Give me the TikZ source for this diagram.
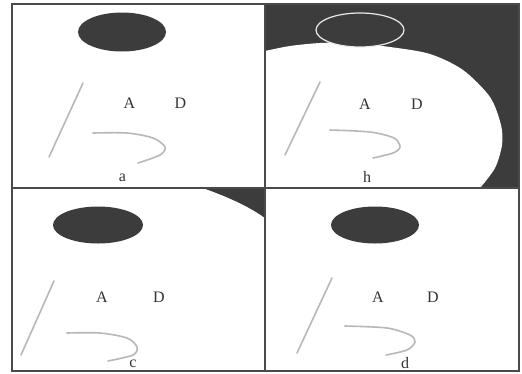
\documentclass[tikz,border=0pt]{standalone}
\usepackage{fontspec}
\setmainfont{Liberation Serif}
\definecolor{darkfill}{HTML}{3C3C3C}
\definecolor{framec}{HTML}{4A4A4A}
\definecolor{strokec}{HTML}{B8B8B8}
\tikzset{
  frameline/.style={draw=framec, line width=1.4pt},
  blob/.style={fill=darkfill},
  stroke/.style={draw=strokec, line width=1.6pt, line cap=round},
  lbl/.style={font=\fontsize{16}{16}\selectfont, text=black!80, inner sep=0pt},
}
\begin{document}
\begin{tikzpicture}[x=1pt,y=-1pt]
\useasboundingbox (0,0) rectangle (522,373);
\fill[white] (0,0) rectangle (522,373);

% panel b background
\fill[blob] (265,4) rectangle (519,188);
\fill[white] plot[smooth] coordinates {(265,51) (290,46) (320,43) (350,43) (390,47) (430,54) (463,70) (490,97) (501,125) (502,145) (495,168) (480,188)} -- (265,188) -- cycle;

% panel c corner
\fill[blob] (203,188) .. controls (225,196) and (247,205) .. (265,218) -- (265,188) -- cycle;

% ellipses
\fill[blob] (122,32) ellipse [x radius=44, y radius=19.5];
\filldraw[blob, draw=white!92!black, line width=1.2pt] (360,30) ellipse [x radius=44, y radius=17];
\fill[blob] (98,225) ellipse [x radius=45, y radius=18.5];
\fill[blob] (375,225) ellipse [x radius=44, y radius=18.5];

% strokes panel a
\coordinate (a1) at (83,83); \coordinate (a2) at (49,157);
\draw[stroke] (a1) -- (a2);
\draw[stroke] plot[smooth] coordinates {(93,133) (127,133) (153,138) (165,147) (160,155) (138,163)};
% panel b
\coordinate (b1) at (320,82); \coordinate (b2) at (285,155);
\draw[stroke] (b1) -- (b2);
\draw[stroke] plot[smooth] coordinates {(330,130) (370,132) (394,138) (400,147) (393,153) (373,158)};
% panel c
\coordinate (c1) at (54,281); \coordinate (c2) at (21,355);
\draw[stroke] (c1) -- (c2);
\draw[stroke] plot[smooth] coordinates {(67,333) (100,333) (127,338) (137,347) (133,355) (108,361)};
% panel d
\coordinate (d1) at (332,278); \coordinate (d2) at (297,353);
\draw[stroke] (d1) -- (d2);
\draw[stroke] plot[smooth] coordinates {(345,326) (387,328) (410,335) (415,342) (407,350) (386,355)};

% labels
\node[lbl] (aA) at (129.5,103) {A};
\node[lbl] (aD) at (180.5,103) {D};
\node[lbl] (la) at (122.5,178) {a};
\node[lbl] (bA) at (365,104) {A};
\node[lbl] (bD) at (417,104) {D};
\node[lbl] (lb) at (367,177) {h};
\node[lbl] (cA) at (102,297) {A};
\node[lbl] (cD) at (159,297) {D};
\node[lbl] (lc) at (133,364) {c};
\node[lbl] (dA) at (378,297) {A};
\node[lbl] (dD) at (433,297) {D};
\node[lbl] (ld) at (405,363) {d};

% frame
\draw[frameline] (12,4) rectangle (519,371);
\draw[frameline] (265,4) -- (265,371);
\draw[frameline] (12,188) -- (519,188);
\end{tikzpicture}
\end{document}
